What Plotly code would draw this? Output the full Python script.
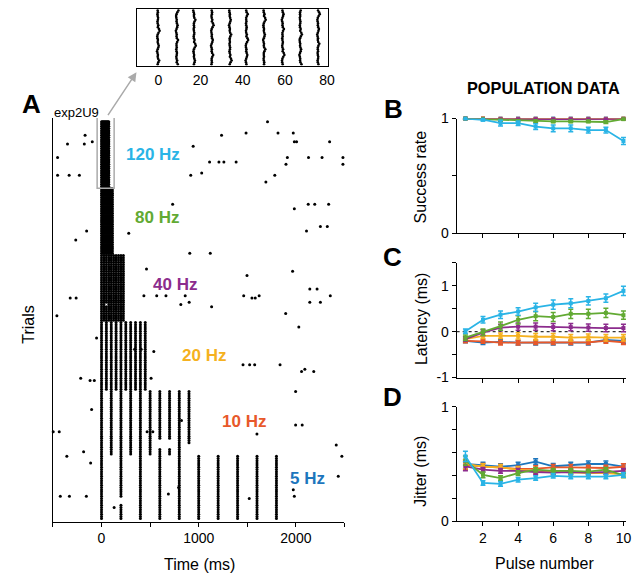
import plotly.graph_objects as go

W, H = 640, 583
FONT = "Liberation Sans, Arial, sans-serif"

# ---------------- Panel A: raster ----------------
freqs_hz = [120, 80, 40, 20, 10, 5]
freq_labels = ["120 Hz", "80 Hz", "40 Hz", "20 Hz", "10 Hz", "5 Hz"]
trials_per_block = [30, 30, 30, 31, 29, 29]
pulses_per_train = 10
label_colors = ["#2AB4E6", "#62AA33", "#8C2C8D", "#F5B120", "#E8582A", "#1D76BD"]

# evoked spikes that failed (absolute trial, pulse index)
missing_trial = [83, 144, 145, 146, 147, 144, 145, 146, 147, 146, 147, 148, 149, 150, 170, 171, 172]
missing_pulse = [2, 6, 6, 6, 6, 7, 7, 7, 7, 9, 9, 9, 9, 9, 1, 1, 1]

# spontaneous / displaced spikes (time in ms, trial)
spont_time = [-169, -350, -177, -95, -452, -452, -333, -228, 1235, 943, 1112, 1208, 1259, 1385,
              918, 1031, 732, -153, -265, 280, 908, 1119, 463, 1708, 1487, 1816, 1973, 1984,
              2007, 2347, 1912, 1898, 2130, 2269, 2484, 2484, 1783, 1691, 2127, 2194, 2337,
              1984, 2252, 2323, 2109, 1966, 1497, 1463, 1548, 1582, 1622, 2143, 2218, 2143,
              2252, 2354, 1133, 1895, 2030, -322, -261, -459, 436, 568, 663, 861, 816, 902,
              -51, 341, 408, 538, -214, -118, -74, 510, -102, 823, -497, -435, 469, 528, -357,
              -184, -112, 1997, 1997, 2065, 1599, 2415, 2473, -424, -330, -156, 130, 688, 793,
              1520, 1973, 1984, 2436, 1456, 1524, 1576, 1837, 2058, 2092, 2184]
spont_trial = [7, 11, 11, 10, 17, 25, 25, 25, 7, 12, 19, 19, 19, 19,
               25, 24, 38, 50, 54, 51, 60, 60, 67, 1, 6, 6, 6, 10,
               10, 10, 17, 20, 17, 17, 17, 20, 25, 28, 38, 38, 38,
               40, 48, 48, 50, 68, 70, 79, 80, 80, 79, 76, 76, 82,
               82, 79, 84, 87, 93, 80, 80, 88, 79, 79, 79, 79, 83, 82,
               98, 103, 103, 104, 116, 117, 117, 116, 130, 135, 140, 140, 140, 140, 151,
               149, 154, 122, 137, 137, 141, 146, 151, 169, 169, 169, 174, 168, 165,
               170, 166, 169, 160, 110, 110, 110, 110, 113, 112, 113]

# inset (120 Hz block, zoomed): per-trial jitter and per-pulse offset (ms)
inset_jitter_ms = [0.0, 0.1, -0.1, 0.0, 0.2, 0.1, -0.1, 0.0, 0.3, 0.1, 0.6, 0.9, 0.4, 0.0, -0.2,
                   -0.1, 0.1, 0.0, 0.2, 0.5, 0.3, 0.0, -0.3, -0.1, 0.1, 0.0, 0.2, 0.7, 0.3, 0.0]
inset_pulse_offset_ms = [-0.3, 0.3, 0.2, 0.3, 0.5, 0.0, 0.0, 0.5, 0.5, 0.6]
inset_ticks = [0, 20, 40, 60, 80]

# ---------------- Panels B-D: population data ----------------
pulse_number = [1, 2, 3, 4, 5, 6, 7, 8, 9, 10]
series_freqs = [5, 10, 20, 40, 80, 120]
series_colors = {5: "#1D76BD", 10: "#E8582A", 20: "#F5B120", 40: "#8C2C8D", 80: "#62AA33", 120: "#2AB4E6"}

success = {
    5:   [1.0, 1.0, 1.0, 1.0, 1.0, 1.0, 1.0, 1.0, 1.0, 1.0],
    10:  [1.0, 1.0, 0.998, 0.998, 0.998, 0.997, 0.998, 0.998, 0.998, 0.999],
    20:  [1.0, 1.0, 0.997, 0.996, 0.996, 0.996, 0.996, 0.995, 0.996, 0.998],
    40:  [1.0, 0.998, 0.995, 0.995, 0.995, 0.995, 0.995, 0.995, 0.995, 0.997],
    80:  [1.0, 0.995, 0.985, 0.98, 0.978, 0.975, 0.975, 0.975, 0.97, 0.995],
    120: [1.0, 0.99, 0.96, 0.96, 0.93, 0.915, 0.915, 0.9, 0.9, 0.805],
}
success_err = {
    5:   [0.002] * 10,
    10:  [0.003] * 10,
    20:  [0.003] * 10,
    40:  [0.003] * 10,
    80:  [0.002, 0.005, 0.01, 0.01, 0.01, 0.01, 0.01, 0.01, 0.012, 0.005],
    120: [0.003, 0.01, 0.025, 0.02, 0.025, 0.03, 0.03, 0.025, 0.025, 0.03],
}
latency = {
    5:   [-0.2, -0.24, -0.22, -0.24, -0.24, -0.24, -0.24, -0.24, -0.18, -0.2],
    10:  [-0.2, -0.21, -0.24, -0.24, -0.23, -0.23, -0.23, -0.23, -0.2, -0.23],
    20:  [-0.16, -0.09, -0.09, -0.09, -0.11, -0.11, -0.13, -0.12, -0.13, -0.13],
    40:  [-0.16, -0.02, 0.09, 0.11, 0.11, 0.1, 0.1, 0.09, 0.08, 0.08],
    80:  [-0.13, -0.01, 0.12, 0.26, 0.34, 0.32, 0.39, 0.39, 0.41, 0.36],
    120: [0.01, 0.26, 0.37, 0.44, 0.53, 0.59, 0.62, 0.67, 0.73, 0.89],
}
latency_err = {
    5:   [0.04, 0.04, 0.05, 0.05, 0.05, 0.05, 0.05, 0.05, 0.05, 0.05],
    10:  [0.04, 0.04, 0.05, 0.05, 0.05, 0.05, 0.05, 0.05, 0.05, 0.05],
    20:  [0.05, 0.06, 0.06, 0.07, 0.07, 0.07, 0.07, 0.07, 0.07, 0.07],
    40:  [0.05, 0.06, 0.07, 0.08, 0.08, 0.08, 0.08, 0.08, 0.08, 0.08],
    80:  [0.06, 0.07, 0.09, 0.09, 0.1, 0.1, 0.1, 0.1, 0.1, 0.09],
    120: [0.05, 0.07, 0.08, 0.08, 0.09, 0.1, 0.1, 0.09, 0.09, 0.1],
}
jitter = {
    5:   [0.5, 0.49, 0.476, 0.49, 0.52, 0.48, 0.49, 0.5, 0.5, 0.476],
    10:  [0.49, 0.48, 0.47, 0.456, 0.46, 0.47, 0.47, 0.465, 0.465, 0.476],
    20:  [0.5, 0.476, 0.47, 0.45, 0.44, 0.433, 0.425, 0.42, 0.42, 0.41],
    40:  [0.48, 0.45, 0.44, 0.44, 0.43, 0.425, 0.43, 0.425, 0.43, 0.44],
    80:  [0.53, 0.405, 0.377, 0.42, 0.45, 0.44, 0.44, 0.433, 0.45, 0.4],
    120: [0.567, 0.334, 0.326, 0.363, 0.377, 0.397, 0.39, 0.39, 0.39, 0.405],
}
jitter_err = {
    5:   [0.04, 0.025, 0.025, 0.025, 0.025, 0.025, 0.025, 0.025, 0.025, 0.025],
    10:  [0.04, 0.025, 0.025, 0.025, 0.025, 0.025, 0.025, 0.025, 0.025, 0.025],
    20:  [0.04, 0.025, 0.025, 0.025, 0.025, 0.025, 0.025, 0.025, 0.025, 0.025],
    40:  [0.04, 0.02, 0.02, 0.02, 0.02, 0.02, 0.02, 0.02, 0.02, 0.02],
    80:  [0.04, 0.025, 0.02, 0.02, 0.02, 0.02, 0.02, 0.02, 0.02, 0.02],
    120: [0.045, 0.02, 0.02, 0.02, 0.02, 0.02, 0.02, 0.02, 0.02, 0.02],
}


def px(x, y):
    return x / W, 1 - y / H


fig = go.Figure()

# ---- raster ----
missing_set = set(zip(missing_trial, missing_pulse))
rx, ry = [], []
ix, iy = [], []
start = 1
for f, n in zip(freqs_hz, trials_per_block):
    interval = 1000.0 / f
    for t in range(start, start + n):
        for p in range(pulses_per_train):
            if (t, p) in missing_set:
                continue
            rx.append(p * interval)
            ry.append(t)
            if f == 120:
                k = (t - start + 11 * p) % len(inset_jitter_ms)
                ix.append(p * interval + inset_pulse_offset_ms[p] + inset_jitter_ms[k])
                iy.append(t - start + 1)
    start += n
rx += spont_time
ry += spont_trial

fig.add_trace(go.Scatter(x=rx, y=ry, mode="markers", xaxis="x", yaxis="y",
                         marker=dict(size=3, color="black"), hoverinfo="skip", cliponaxis=False))
fig.add_trace(go.Scatter(x=ix, y=iy, mode="markers", xaxis="x2", yaxis="y2",
                         marker=dict(size=2.6, color="black"), hoverinfo="skip"))

# ---- population panels ----
for f in series_freqs:
    c = series_colors[f]
    for data, err, ax in ((success, success_err, "3"), (latency, latency_err, "4"), (jitter, jitter_err, "5")):
        fig.add_trace(go.Scatter(
            x=pulse_number, y=data[f], mode="lines+markers",
            xaxis="x" + ax, yaxis="y" + ax,
            line=dict(color=c, width=1.8),
            marker=dict(symbol="square", size=4, color=c),
            error_y=dict(type="data", array=err[f], color=c, thickness=1.5, width=2.5),
            cliponaxis=False, hoverinfo="skip"))

axis_common = dict(showgrid=False, zeroline=False, showline=True, linecolor="black", linewidth=1,
                   tickfont=dict(family=FONT, size=14, color="black"), tickcolor="black")

xr0, xr1 = 461.7 / W, 633 / W
layout = dict(
    width=W, height=H, margin=dict(l=0, r=0, t=0, b=0),
    paper_bgcolor="white", plot_bgcolor="white", showlegend=False,
    font=dict(family=FONT, color="black"),
    xaxis=dict(axis_common, domain=[53.5 / W, 348.3 / W], anchor="y", range=[-500, 2500],
               tickvals=[-500, 0, 500, 1000, 1500, 2000, 2500],
               ticktext=["", "0", "", "1000", "", "2000", ""], ticks="outside", ticklen=4),
    yaxis=dict(axis_common, domain=[1 - 528 / H, 1 - 113 / H], anchor="x", range=[180.3, -0.75],
               ticks="", showticklabels=False),
    xaxis2=dict(axis_common, domain=[138.3 / W, 332 / W], anchor="y2", range=[-10.2, 80.6],
                mirror=True, tickvals=inset_ticks, ticks="outside", ticklen=2,
                tickcolor="rgba(0,0,0,0)"),
    yaxis2=dict(axis_common, domain=[1 - 59.3 / H, 1 - 1 / H], anchor="x2", range=[30.8, 0.2],
                mirror=True, ticks="", showticklabels=False),
    xaxis3=dict(axis_common, domain=[xr0, xr1], anchor="y3", range=[0.5, 10.15],
                tickvals=[2, 4, 6, 8, 10], ticks="outside", ticklen=4, showticklabels=False),
    yaxis3=dict(axis_common, domain=[1 - 231.7 / H, 1 - 113.7 / H], anchor="x3", range=[0, 1],
                tickvals=[0, 0.5, 1], ticktext=["0", "", "1"], ticks="outside", ticklen=4),
    xaxis4=dict(axis_common, domain=[xr0, xr1], anchor="y4", range=[0.5, 10.15],
                tickvals=[2, 4, 6, 8, 10], ticks="outside", ticklen=4, showticklabels=False),
    yaxis4=dict(axis_common, domain=[1 - 380 / H, 1 - 262.1 / H], anchor="x4", range=[-1, 1.5],
                tickvals=[-1, -0.5, 0, 0.5, 1, 1.5], ticktext=["-1", "", "0", "", "1", ""],
                ticks="outside", ticklen=4),
    xaxis5=dict(axis_common, domain=[xr0, xr1], anchor="y5", range=[0.5, 10.15],
                tickvals=[2, 4, 6, 8, 10], ticks="outside", ticklen=4),
    yaxis5=dict(axis_common, domain=[1 - 527.7 / H, 1 - 410 / H], anchor="x5", range=[0, 1],
                tickvals=[0, 0.2, 0.4, 0.6, 0.8, 1], ticktext=["0", "", "", "", "", "1"],
                ticks="outside", ticklen=4),
)
fig.update_layout(**layout)

# zero reference line in latency panel
fig.add_shape(type="line", xref="x4 domain", yref="y4", x0=0, x1=1, y0=0, y1=0,
              line=dict(color="black", width=1, dash="dot"), layer="below")
# gray box around 120 Hz block
fig.add_shape(type="rect", xref="x", yref="y", x0=-45, x1=130, y0=-1.05, y1=30.8,
              line=dict(color="#AAAAAA", width=1.5))

annotations = []


def text(x, y, s, size, color="black", bold=False, angle=0, xanchor="center"):
    ax_, ay_ = px(x, y)
    annotations.append(dict(x=ax_, y=ay_, xref="paper", yref="paper", text=("<b>%s</b>" % s) if bold else s,
                            showarrow=False, xanchor=xanchor, yanchor="middle", textangle=angle,
                            font=dict(family=FONT, size=size, color=color)))


label_pos = [(154.5, 151), (159.2, 215.5), (177, 284), (206.7, 357), (246.3, 425.5), (311.3, 483.7)]
for (lx, ly), s, c in zip(label_pos, freq_labels, label_colors):
    text(lx, ly, s, 17, c, bold=True)

text(53, 107, "exp2U9", 13, xanchor="left")
text(32, 99, "A", 26, bold=True)
text(397.5, 104, "B", 26, bold=True)
text(397, 256, "C", 26, bold=True)
text(397, 400, "D", 26, bold=True)
text(550, 82.5, "POPULATION DATA", 16.3, bold=True)
text(28, 325, "Trials", 16, angle=-90)
text(201.7, 572, "Time (ms)", 16)
text(425.5, 173.3, "Success rate", 16, angle=-90)
text(425.5, 320, "Latency (ms)", 16, angle=-90)
text(425.5, 476, "Jitter (ms)", 16, angle=-90)
text(551, 571.5, "Pulse number", 16)

# arrow from the gray box to the inset
hx, hy = px(138, 66)
annotations.append(dict(x=hx, y=hy, xref="paper", yref="paper", ax=108.5 - 138, ay=110.5 - 66,
                        axref="pixel", ayref="pixel", showarrow=True, arrowhead=2, arrowsize=1.2,
                        arrowwidth=1.5, arrowcolor="#AAAAAA", text=""))
fig.update_layout(annotations=annotations)

fig.write_html("out.html", config={"displayModeBar": False},
               post_script="document.body.style.margin='0px';document.body.style.overflow='hidden';")
